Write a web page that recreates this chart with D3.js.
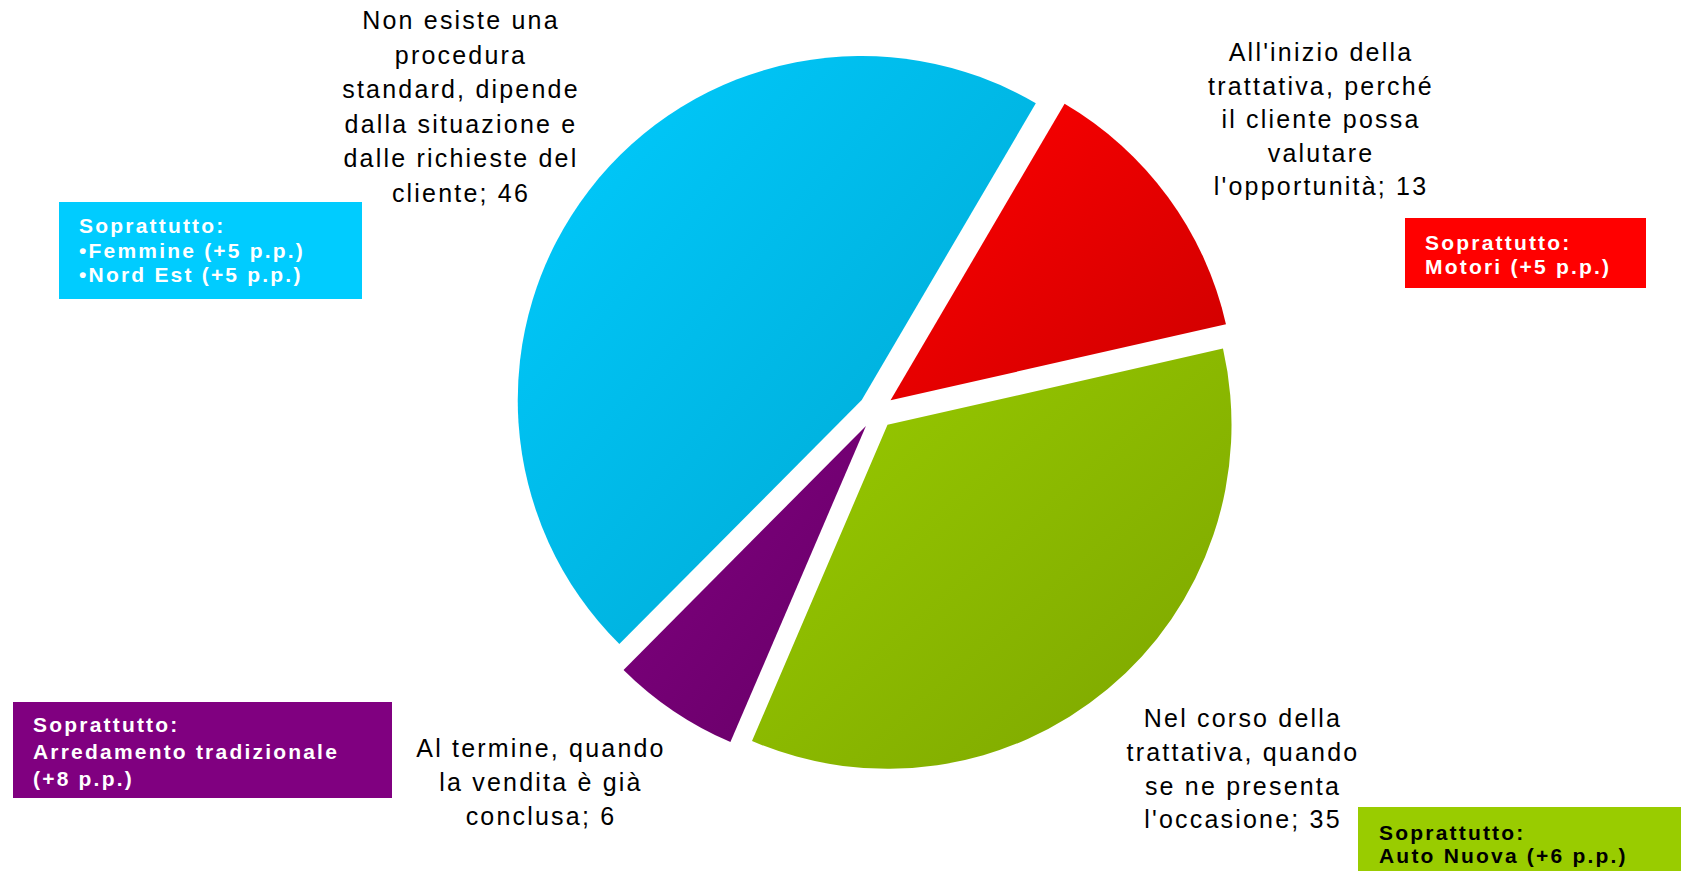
<!DOCTYPE html>
<html>
<head>
<meta charset="utf-8">
<script src="https://cdn.jsdelivr.net/npm/d3@7"></script>
<style>
  html, body { margin: 0; padding: 0; background: #ffffff; }
  svg { display: block; }
</style>
</head>
<body>
<svg id="chart" width="1681" height="871"></svg>
<script>
// Quando viene proposto il finanziamento al cliente (%)
const categories = [
  "All'inizio della trattativa",
  "Nel corso della trattativa",
  "Al termine",
  "Non esiste una procedura standard"
];
const values = [13, 35, 6, 46];
const sliceColors = ["#ff0000", "#99cc00", "#800080", "#00ccff"];

// Slice labels, one entry per line; the value is appended to the last line
const labelLines = [
  ["All'inizio della", "trattativa, perché", "il cliente possa", "valutare", "l'opportunità;"],
  ["Nel corso della", "trattativa, quando", "se ne presenta", "l'occasione;"],
  ["Al termine, quando", "la vendita è già", "conclusa;"],
  ["Non esiste una", "procedura", "standard, dipende", "dalla situazione e", "dalle richieste del", "cliente;"]
];

// Segment highlights shown in the coloured boxes
const highlightLines = [
  ["Soprattutto:", "Motori (+5 p.p.)"],
  ["Soprattutto:", "Auto Nuova (+6 p.p.)"],
  ["Soprattutto:", "Arredamento tradizionale", "(+8 p.p.)"],
  ["Soprattutto:", "•Femmine (+5 p.p.)", "•Nord Est (+5 p.p.)"]
];
const highlightText = ["#ffffff", "#000000", "#ffffff", "#ffffff"];

// ---- layout ----
const cx = 876, cy = 411, radius = 344, explode = 18;
const startDeg = 30.4;
const labelLayout = [
  { x: 1321, y: 61,  dy: 33.5 },
  { x: 1243, y: 727, dy: 33.8 },
  { x: 541,  y: 757, dy: 33.8 },
  { x: 461,  y: 29,  dy: 34.5 }
];
const boxLayout = [
  { x: 1405, y: 218, w: 241, h: 70,  tx: 1425, ty: 250, dy: 23.5 },
  { x: 1358, y: 807, w: 323, h: 64,  tx: 1379, ty: 840, dy: 23.3 },
  { x: 13,   y: 702, w: 379, h: 96,  tx: 33,   ty: 732, dy: 27 },
  { x: 59,   y: 202, w: 303, h: 97,  tx: 79,   ty: 233, dy: 24.5 }
];

const svg = d3.select("#chart");
const defs = svg.append("defs");

sliceColors.forEach((c, i) => {
  const g = defs.append("linearGradient")
    .attr("id", "grad" + i)
    .attr("x1", 0).attr("y1", 0).attr("x2", 1).attr("y2", 1);
  g.append("stop").attr("offset", "0%").attr("stop-color", c);
  g.append("stop").attr("offset", "100%").attr("stop-color", d3.color(c).darker(0.6).formatHex());
});

const pie = d3.pie()
  .sort(null)
  .value(d => d)
  .startAngle(startDeg * Math.PI / 180)
  .endAngle(startDeg * Math.PI / 180 + 2 * Math.PI);

const arc = d3.arc().innerRadius(0).outerRadius(radius);
const arcs = pie(values);

svg.append("g")
  .attr("transform", `translate(${cx},${cy})`)
  .selectAll("path")
  .data(arcs)
  .join("path")
  .attr("d", arc)
  .attr("fill", (d, i) => `url(#grad${i})`)
  .attr("transform", d => {
    const a = (d.startAngle + d.endAngle) / 2;
    return `translate(${explode * Math.sin(a)},${-explode * Math.cos(a)})`;
  });

// slice labels
const labels = svg.append("g")
  .attr("font-family", "'Liberation Sans', Arial, sans-serif")
  .attr("font-size", 25)
  .attr("letter-spacing", 2.2)
  .attr("fill", "#000000")
  .attr("text-anchor", "middle");

labelLines.forEach((lines, i) => {
  const L = labelLayout[i];
  const t = labels.append("text");
  lines.forEach((line, j) => {
    const txt = j === lines.length - 1 ? `${line} ${values[i]}` : line;
    t.append("tspan").attr("x", L.x).attr("y", L.y + j * L.dy).text(txt);
  });
});

// highlight boxes
const boxes = svg.append("g")
  .attr("font-family", "'Liberation Sans', Arial, sans-serif")
  .attr("font-size", 21)
  .attr("font-weight", "bold")
  .attr("letter-spacing", 2.2);

highlightLines.forEach((lines, i) => {
  const B = boxLayout[i];
  boxes.append("rect")
    .attr("x", B.x).attr("y", B.y).attr("width", B.w).attr("height", B.h)
    .attr("fill", sliceColors[i]);
  const t = boxes.append("text").attr("fill", highlightText[i]);
  lines.forEach((line, j) => {
    t.append("tspan").attr("x", B.tx).attr("y", B.ty + j * B.dy).text(line);
  });
});
</script>
</body>
</html>
